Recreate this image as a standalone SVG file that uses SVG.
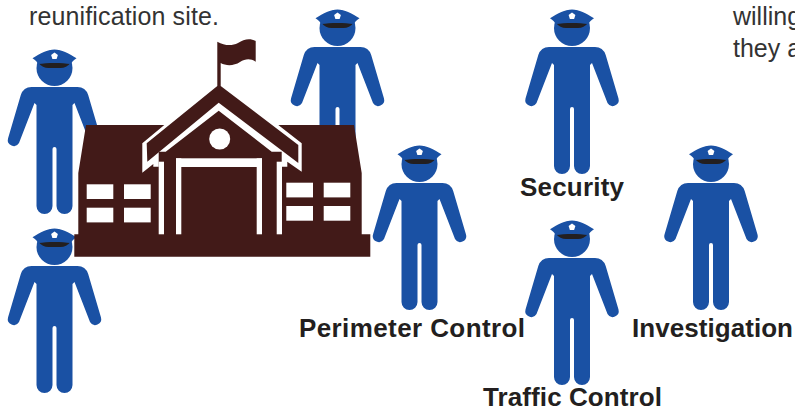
<svg xmlns="http://www.w3.org/2000/svg" width="795" height="408" viewBox="0 0 795 408">
<style>
.d{fill:#421a18}.w{fill:#fff}.b{fill:#1a51a4}.k{fill:#231f20}
text{font-family:"Liberation Sans",Arial,sans-serif}
.lab{font-size:26px;font-weight:700;fill:#231f20}
.cap{font-size:25px;fill:#333}
</style>
<defs>
<g id="officer">
<circle class="b" cx="0" cy="28" r="18"/>
<path class="b" d="M-18 65L-20 63L-35.500 103A6 6 0 0 1-46.500 98.500L-33.700 55Q-31 47-23 47L23 47Q31 47 33.700 55L46.500 98.500A6 6 0 0 1 35.500 103L20 63L18 65V166A8 8 0 0 1 2 166V109Q2 107 0 107Q-2 107-2 109V166A8 8 0 0 1-18 166Z"/>
<path class="k" d="M-16 23H16Q12 28 6 28H-6Q-12 28-16 23Z"/>
<path class="b" d="M-22 18.300C-14 13-7 9.500 0 9.500C7 9.500 14 13 22 18.300C19 20 17 23 16 24C8 22.500-8 22.500-16 24C-17 23-19 20-22 18.300Z"/>
<path class="w" d="M0 12.500L3.400 15L2.100 19H-2.100L-3.400 15Z"/>
</g>
</defs>
<rect width="795" height="408" fill="#fff"/>
<g id="caption-left"><text class="cap" x="29" y="24.500" textLength="190">reunification site.</text></g>
<g id="caption-right"><text class="cap" x="733" y="25">willing</text><text class="cap" x="733" y="57">they a</text></g>
<g id="officer-top"><use href="#officer" x="337.500" y="0"/></g>
<g id="officer-left-upper"><use href="#officer" x="54.500" y="40"/></g>
<g id="officer-left-lower"><use href="#officer" x="54.500" y="219"/></g>
<g id="school">
<path class="d" d="M86 125H354L361.700 173V234.300H370.300V256.700H74.300V234.300H78.300V173Z"/>
<path class="w" d="M164.300 125L218.700 83L278.300 125L301.700 143.300V171.700L287.300 161.700V166.700H153.300V164L142.300 172.700V143.300Z"/>
<path class="d" d="M217.300 41.700C225 46 232 46 238 43C244 39 250 38 255.700 41V61.700C250 58 245 59 240 62C234 66 226 66 220.700 63V86L298.300 145V163L218.700 102.700L147.300 161.700L146.700 143.300L217.300 86Z"/>
<path class="d" d="M218.700 110.700L271.700 151.700H281.700V234.500H158.700V151.700H165.700Z"/>
<g class="w">
<rect x="158.700" y="161.700" width="5.300" height="72.600"/>
<rect x="276.700" y="161.700" width="5.300" height="72.600"/>
<rect x="176" y="158.300" width="5.300" height="76"/>
<rect x="256.700" y="158.300" width="5.300" height="76"/>
<rect x="176" y="158.300" width="86" height="8.700"/>
<circle cx="219.700" cy="139" r="10.500"/>
<rect x="86.700" y="184.300" width="26.600" height="14.700"/><rect x="124" y="184.300" width="26.700" height="14.700"/><rect x="86.700" y="207.700" width="26.600" height="14.700"/><rect x="124" y="207.700" width="26.700" height="14.700"/><rect x="286.300" y="182.700" width="26.700" height="14.700"/><rect x="323.700" y="182.700" width="26.600" height="14.700"/><rect x="286.300" y="206" width="26.700" height="14.700"/><rect x="323.700" y="206" width="26.600" height="14.700"/>
</g>
</g>
<g id="officer-perimeter"><use href="#officer" x="419.500" y="136"/><text class="lab" x="299" y="337" textLength="226">Perimeter Control</text></g>
<g id="officer-security"><use href="#officer" x="572" y="0"/><text class="lab" x="520" y="196" textLength="104">Security</text></g>
<g id="officer-traffic"><use href="#officer" x="572" y="211"/><text class="lab" x="483" y="406" textLength="179">Traffic Control</text></g>
<g id="officer-investigation"><use href="#officer" x="711" y="136"/><text class="lab" x="632" y="337" textLength="161">Investigation</text></g>
</svg>
